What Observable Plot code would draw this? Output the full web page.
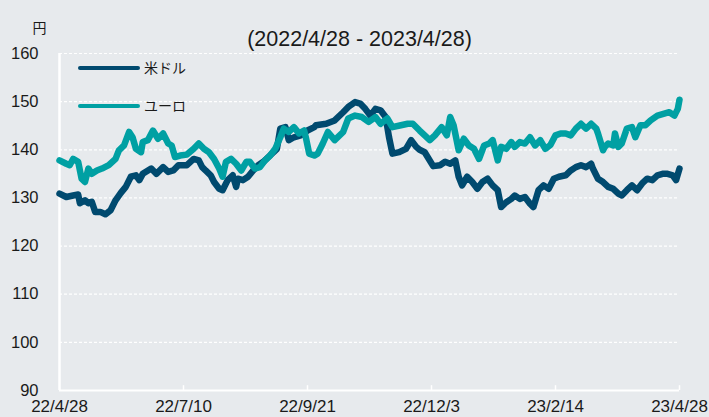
<!DOCTYPE html>
<html><head><meta charset="utf-8">
<script src="https://cdn.jsdelivr.net/npm/d3@7"></script>
<script src="https://cdn.jsdelivr.net/npm/@observablehq/plot@0.6"></script>
<style>body{margin:0;background:#e7eaed;overflow:hidden;}</style>
</head><body><div id="chart"></div>
<script>
const title = "(2022/4/28 - 2023/4/28)";
const yUnit = "円";
const seriesNames = ["米ドル", "ユーロ"];
const seriesColors = ["#004a6f", "#00a0a3"];
const yTicks = [90, 100, 110, 120, 130, 140, 150, 160];
const xTickDates = ["2022-04-28", "2022-07-10", "2022-09-21", "2022-12-03", "2023-02-14", "2023-04-28"];
const xTickLabels = ["22/4/28", "22/7/10", "22/9/21", "22/12/3", "23/2/14", "23/4/28"];

const usdDates = ["2022-04-28","2022-05-02","2022-05-06","2022-05-09","2022-05-10","2022-05-13","2022-05-15","2022-05-17","2022-05-19","2022-05-22","2022-05-25","2022-05-28","2022-05-31",
"2022-06-03","2022-06-06","2022-06-09","2022-06-12","2022-06-14","2022-06-16","2022-06-21","2022-06-24","2022-06-28",
"2022-07-01","2022-07-04","2022-07-07","2022-07-12","2022-07-16","2022-07-19","2022-07-21","2022-07-23","2022-07-26","2022-07-28","2022-07-31",
"2022-08-02","2022-08-05","2022-08-08","2022-08-10","2022-08-11","2022-08-14","2022-08-17","2022-08-20","2022-08-23","2022-08-26","2022-08-29",
"2022-09-01","2022-09-03","2022-09-05","2022-09-08","2022-09-10","2022-09-13","2022-09-17","2022-09-21","2022-09-25","2022-09-26",
"2022-10-02","2022-10-07","2022-10-12","2022-10-15","2022-10-19","2022-10-22","2022-10-25","2022-10-28","2022-10-31",
"2022-11-03","2022-11-06","2022-11-08","2022-11-10","2022-11-14","2022-11-18","2022-11-21","2022-11-24","2022-11-26","2022-11-29",
"2022-12-04","2022-12-08","2022-12-11","2022-12-14","2022-12-17","2022-12-19","2022-12-21","2022-12-24","2022-12-27","2022-12-30",
"2023-01-02","2023-01-05","2023-01-08","2023-01-11","2023-01-13","2023-01-16","2023-01-19","2023-01-21","2023-01-24","2023-01-27","2023-01-30",
"2023-02-01","2023-02-04","2023-02-07","2023-02-10","2023-02-13","2023-02-16","2023-02-20","2023-02-23","2023-02-26",
"2023-03-01","2023-03-04","2023-03-07","2023-03-08","2023-03-11","2023-03-14","2023-03-17","2023-03-20","2023-03-23","2023-03-25","2023-03-28","2023-03-31",
"2023-04-03","2023-04-06","2023-04-09","2023-04-12","2023-04-15","2023-04-18","2023-04-21","2023-04-24","2023-04-26","2023-04-28"];
const usdValues = [130.9,130.2,130.5,130.7,128.9,129.5,128.9,129.2,127.1,127.1,126.6,127.4,129.5,
131.0,132.3,134.4,134.7,133.7,135.0,136.1,135.0,136.4,
135.4,135.7,136.8,136.8,138.1,137.8,136.4,135.7,134.7,133.3,131.9,
131.6,133.7,134.7,132.3,134.0,133.7,134.4,135.7,136.8,137.5,138.5,
139.5,140.2,144.4,144.7,142.0,142.6,143.0,144.0,144.7,145.1,
145.4,146.1,147.8,148.9,149.9,149.6,148.5,147.1,148.5,
148.2,146.8,142.6,139.2,139.5,140.2,142.0,140.6,140.0,139.5,
136.6,136.8,137.5,137.1,137.8,134.4,132.6,134.4,133.3,131.9,
133.3,134.0,132.6,131.6,128.1,129.1,129.8,130.5,129.8,130.2,128.8,
128.1,131.6,132.6,131.9,134.0,134.4,134.7,135.7,136.4,
136.8,136.4,137.1,136.1,134.0,133.3,132.3,131.9,130.9,130.5,131.6,132.6,
131.6,133.0,134.0,133.7,134.7,135.0,135.0,134.7,133.7,136.1];

const eurDates = ["2022-04-28","2022-05-02","2022-05-04","2022-05-06","2022-05-09","2022-05-11","2022-05-13","2022-05-15","2022-05-17","2022-05-20","2022-05-23","2022-05-27","2022-05-31",
"2022-06-02","2022-06-05","2022-06-08","2022-06-10","2022-06-12","2022-06-15","2022-06-16","2022-06-19","2022-06-22","2022-06-25","2022-06-28",
"2022-07-01","2022-07-03","2022-07-05","2022-07-08","2022-07-12","2022-07-16","2022-07-19","2022-07-22","2022-07-25","2022-07-28","2022-07-31",
"2022-08-02","2022-08-04","2022-08-07","2022-08-10","2022-08-13","2022-08-16","2022-08-18","2022-08-21","2022-08-24","2022-08-27","2022-08-30",
"2022-09-02","2022-09-05","2022-09-07","2022-09-10","2022-09-13","2022-09-16","2022-09-19","2022-09-20","2022-09-22","2022-09-25","2022-09-27","2022-09-30",
"2022-10-03","2022-10-07","2022-10-12","2022-10-15","2022-10-19","2022-10-23","2022-10-27","2022-10-31",
"2022-11-03","2022-11-07","2022-11-10","2022-11-15","2022-11-19","2022-11-22","2022-11-26","2022-11-29",
"2022-12-02","2022-12-05","2022-12-09","2022-12-12","2022-12-14","2022-12-16","2022-12-19","2022-12-22","2022-12-25","2022-12-28","2022-12-31",
"2023-01-03","2023-01-06","2023-01-08","2023-01-11","2023-01-13","2023-01-16","2023-01-19","2023-01-21","2023-01-24","2023-01-27","2023-01-30",
"2023-02-02","2023-02-05","2023-02-08","2023-02-11","2023-02-14","2023-02-17","2023-02-20","2023-02-23","2023-02-26",
"2023-03-01","2023-03-04","2023-03-07","2023-03-10","2023-03-11","2023-03-14","2023-03-15","2023-03-17","2023-03-20","2023-03-21","2023-03-23","2023-03-25","2023-03-28","2023-03-31",
"2023-04-02","2023-04-05","2023-04-08","2023-04-11","2023-04-15","2023-04-19","2023-04-22","2023-04-25","2023-04-27","2023-04-28"];
const eurValues = [137.8,137.1,136.8,138.1,137.5,134.0,133.3,136.1,135.0,135.7,136.1,136.8,138.1,
139.9,140.9,143.7,142.6,140.2,139.5,141.6,142.0,144.0,142.3,143.4,
141.3,140.9,138.5,138.8,139.0,140.2,141.3,140.2,139.5,138.1,136.1,
134.4,137.5,138.1,137.1,135.7,137.5,137.5,136.1,136.4,137.8,138.8,
140.2,142.6,144.4,143.7,144.7,143.4,144.0,142.6,139.2,138.8,139.2,141.3,
143.7,142.0,143.7,146.5,147.1,146.8,145.8,146.8,
145.4,146.5,144.7,145.1,145.4,145.4,144.0,143.0,
142.0,143.0,144.7,143.0,146.8,145.1,139.9,142.3,140.9,140.2,138.1,
140.9,141.3,142.0,137.8,140.6,140.2,141.6,140.6,141.6,141.3,142.6,
140.9,142.0,140.2,141.0,143.0,143.4,143.4,143.0,144.4,
145.4,144.4,145.4,144.4,143.4,139.9,140.6,141.3,140.9,143.4,140.6,141.3,144.4,144.7,
142.6,145.1,145.1,146.1,147.1,147.5,147.8,147.1,148.5,150.4];

const parse = d3.utcParse("%Y-%m-%d");
const fmt = d3.utcFormat("%Y-%m-%d");
const usd = usdDates.map((d, i) => ({date: parse(d), value: usdValues[i]}));
const eur = eurDates.map((d, i) => ({date: parse(d), value: eurValues[i]}));
const xTicks = xTickDates.map(parse);
const font = "'Liberation Sans', Arial, 'Noto Sans CJK JP', sans-serif";

const plot = Plot.plot({
  width: 709, height: 417,
  marginTop: 53, marginBottom: 27, marginLeft: 59, marginRight: 30,
  style: {background: "#e7eaed", fontFamily: font, fontSize: "16px", color: "#1a1a1a", overflow: "visible"},
  x: {type: "utc", domain: [xTicks[0], xTicks[xTicks.length - 1]]},
  y: {domain: [90, 160]},
  marks: [
    Plot.ruleY(yTicks.slice(1), {stroke: "#ffffff", strokeWidth: 1.2, strokeDasharray: "3,2"}),
    Plot.ruleY([90], {stroke: "#ffffff", strokeWidth: 2}),
    Plot.ruleX([xTicks[0]], {stroke: "#ffffff", strokeWidth: 2.5}),
    Plot.ruleX(xTicks.slice(1), {y1: 90, y2: 91, stroke: "#ffffff", strokeWidth: 1.5}),
    Plot.axisY({ticks: yTicks, tickSize: 0, tickPadding: 21, fontSize: 16.5, label: null}),
    Plot.axisX({ticks: xTicks, tickSize: 0, tickPadding: 9, fontSize: 17, label: null,
      tickFormat: d => xTickLabels[xTickDates.indexOf(fmt(d))]}),
    Plot.line(usd, {x: "date", y: "value", stroke: seriesColors[0], strokeWidth: 6.5, strokeLinejoin: "round", strokeLinecap: "round"}),
    Plot.line(eur, {x: "date", y: "value", stroke: seriesColors[1], strokeWidth: 6.5, strokeLinejoin: "round", strokeLinecap: "round"}),
    Plot.text([title], {frameAnchor: "top", dx: -10, dy: -23, fontSize: 21.5, fill: "#1a1a1a"}),
    Plot.text([yUnit], {frameAnchor: "top-left", textAnchor: "middle", dx: -20, dy: -30, fontSize: 14, fill: "#1a1a1a"})
  ]
});

// legend (inside plot area, top-left)
const svg = d3.select(plot);
const legendY = [68, 106];
seriesNames.forEach((name, i) => {
  const g = svg.append("g");
  g.append("line").attr("x1", 80).attr("x2", 138).attr("y1", legendY[i]).attr("y2", legendY[i])
    .attr("stroke", seriesColors[i]).attr("stroke-width", 4).attr("stroke-linecap", "round");
  g.append("text").attr("x", 144).attr("y", legendY[i]).attr("dy", "0.35em")
    .attr("text-anchor", "start")
    .attr("font-size", 14).attr("font-family", font).attr("fill", "#1a1a1a").text(name);
});

document.getElementById("chart").appendChild(plot);
</script>
</body></html>
